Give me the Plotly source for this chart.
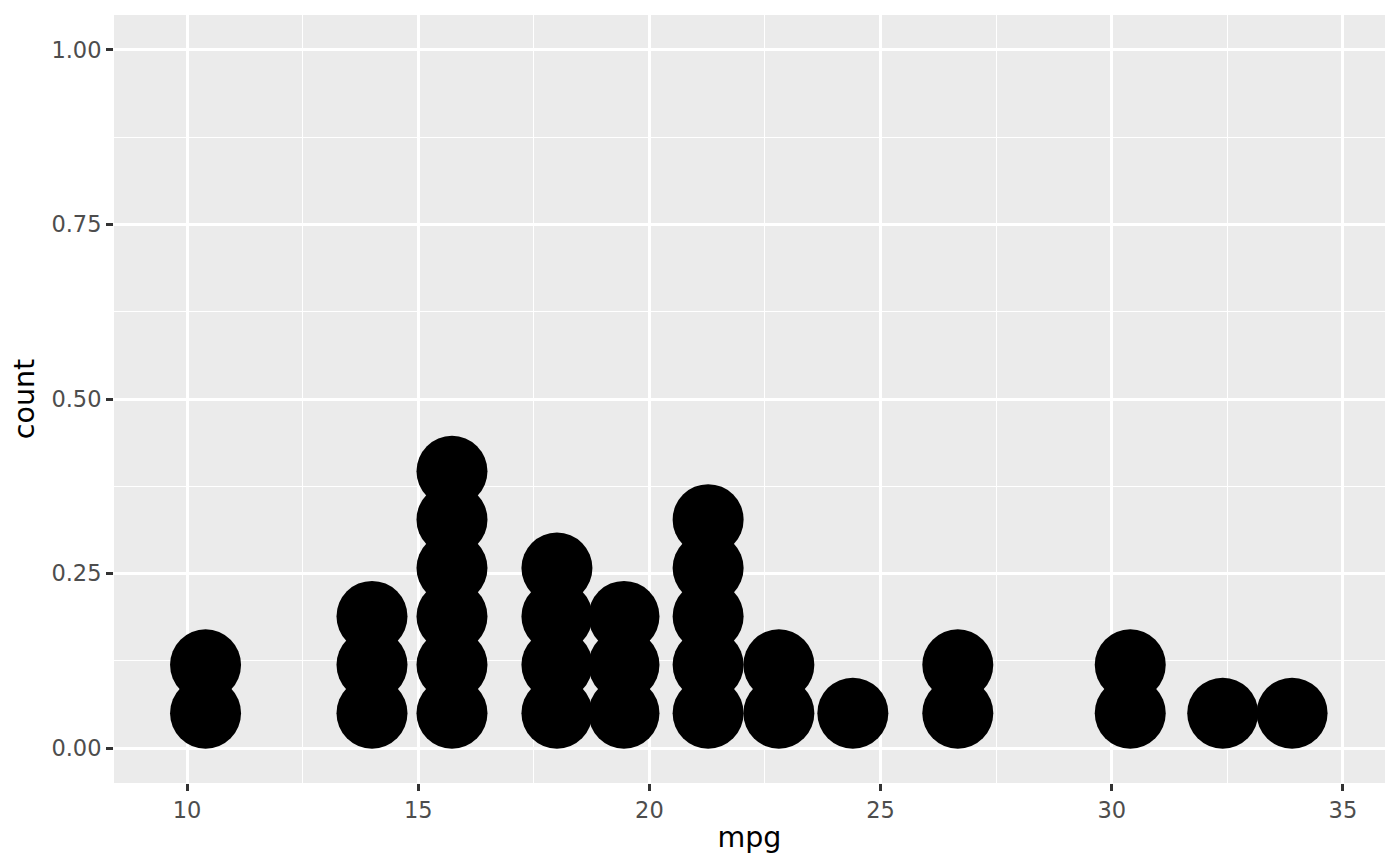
import plotly.graph_objects as go

# Data: mtcars mpg dotplot bins (bin centre, count)
bin_centers = [10.4, 14.0, 15.73, 18.0, 19.45, 21.27, 22.8, 24.4, 26.67, 30.4, 32.4, 33.9]
bin_counts = [2, 3, 6, 4, 3, 5, 2, 1, 2, 2, 1, 1]

# stacking parameters (ggplot dotplot stacking in count-axis units)
stack_base = 0.05
stack_step = 0.0693

xs, ys = [], []
for c, n in zip(bin_centers, bin_counts):
    for i in range(n):
        xs.append(c)
        ys.append(stack_base + i * stack_step)

fig = go.Figure()
fig.add_trace(go.Scatter(
    x=xs, y=ys, mode="markers",
    marker=dict(size=71, color="black", line=dict(width=0)),
    hoverinfo="skip", showlegend=False,
))

font_family = "DejaVu Sans"
# page body has an 8px margin, so margins are offset accordingly
fig.update_layout(
    width=1400, height=866,
    margin=dict(l=106, r=23, t=7, b=91),
    paper_bgcolor="white",
    plot_bgcolor="#EBEBEB",
    font=dict(family=font_family, color="#4D4D4D"),
    showlegend=False,
)
common = dict(
    showgrid=True, gridcolor="white", gridwidth=2.7,
    zeroline=False, showline=False,
    ticks="outside", ticklen=7, tickwidth=2.7, tickcolor="#333333",
    tickfont=dict(size=22.5, color="#4D4D4D", family=font_family),
)
fig.update_xaxes(
    range=[8.42, 35.91], tickmode="linear", tick0=10, dtick=5,
    minor=dict(tickmode="linear", tick0=7.5, dtick=5, showgrid=True, gridcolor="white", gridwidth=1.4, ticks=""),
    title=dict(text="mpg", font=dict(size=28.5, color="black", family=font_family), standoff=5),
    **common,
)
fig.update_yaxes(
    range=[-0.05, 1.05], tickmode="linear", tick0=0, dtick=0.25, tickformat=".2f",
    minor=dict(tickmode="linear", tick0=0.125, dtick=0.25, showgrid=True, gridcolor="white", gridwidth=1.4, ticks=""),
    title=dict(text="count", font=dict(size=28.5, color="black", family=font_family), standoff=9),
    **common,
)

fig.write_html("out.html")
